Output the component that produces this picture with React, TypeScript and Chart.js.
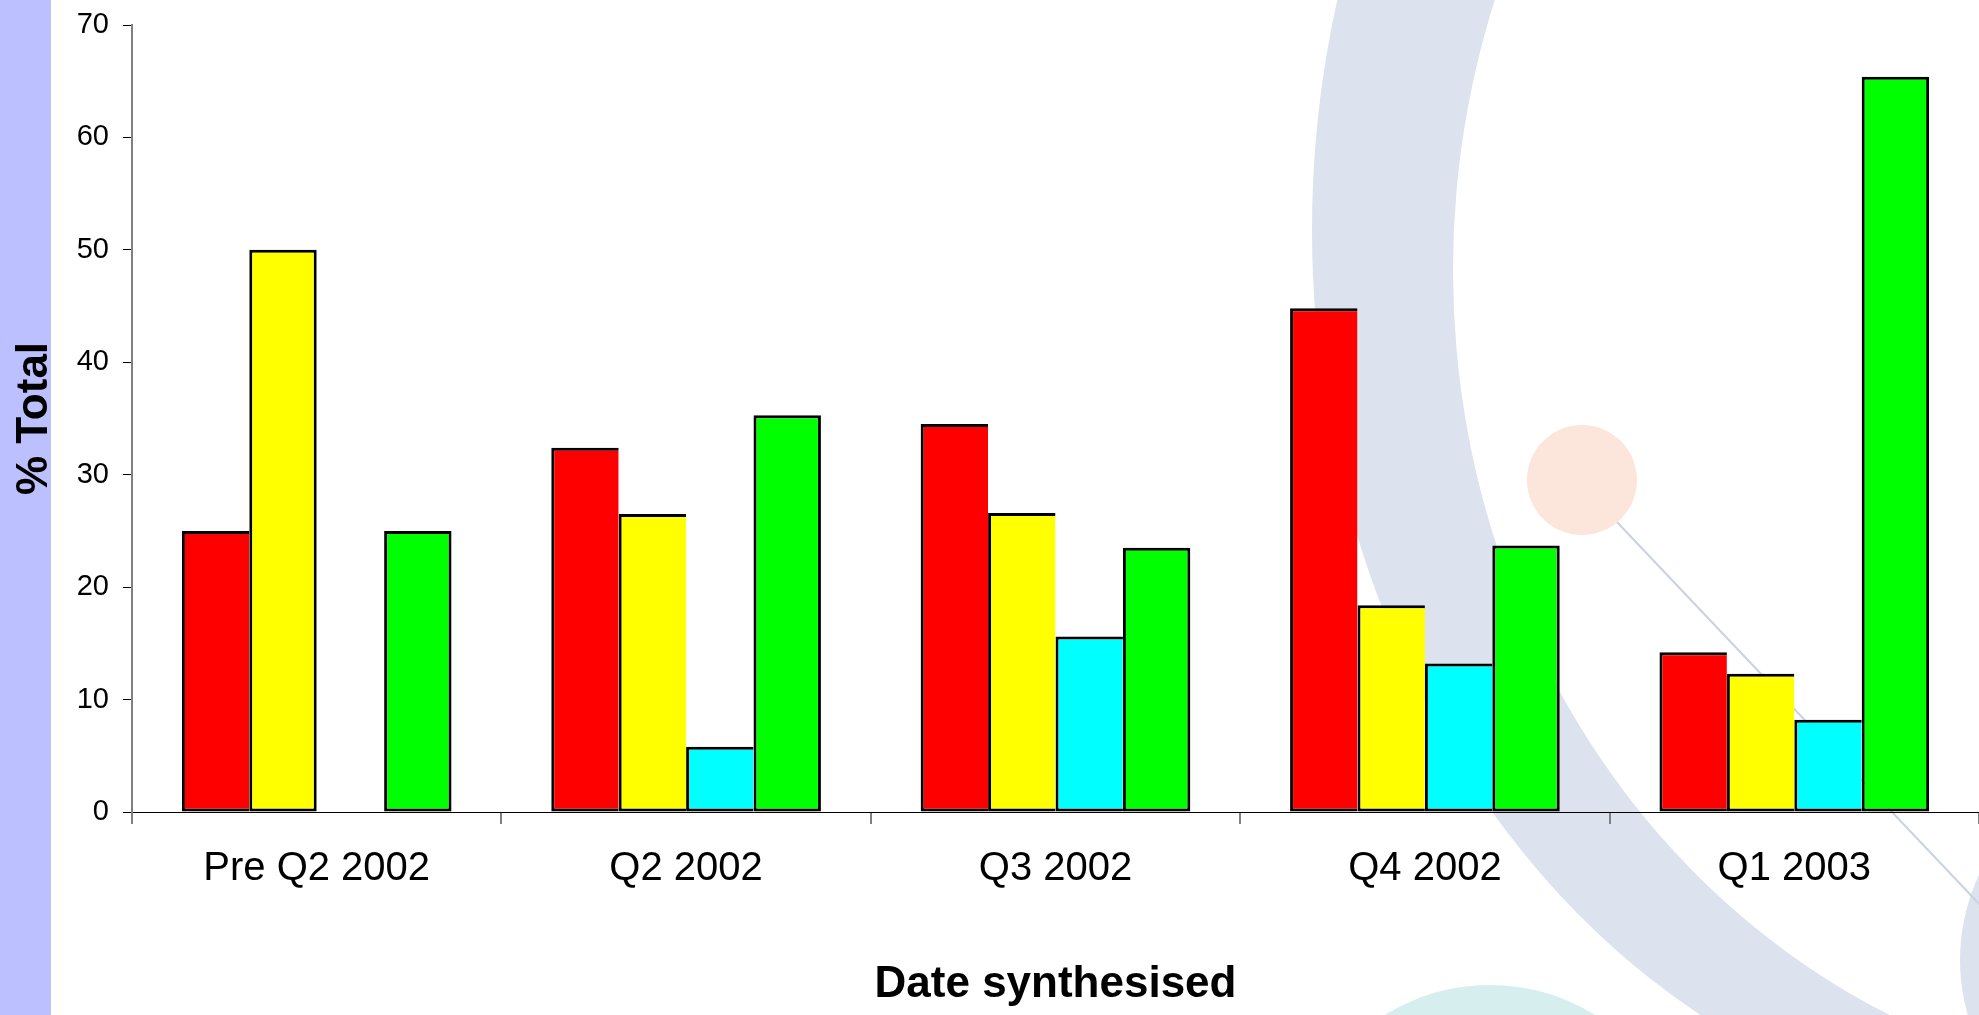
import React, { useEffect, useRef } from "react";
import { Chart, registerables } from "chart.js";

Chart.register(...registerables);

// ---- Data ----
const categories = ["Pre Q2 2002", "Q2 2002", "Q3 2002", "Q4 2002", "Q1 2003"];
const redValues: (number | null)[] = [25.0, 32.4, 34.5, 44.8, 14.2];
const yellowValues: (number | null)[] = [50.0, 26.5, 26.6, 18.4, 12.3];
const cyanValues: (number | null)[] = [null, 5.8, 15.6, 13.2, 8.2];
const greenValues: (number | null)[] = [25.0, 35.3, 23.5, 23.7, 65.4];
const seriesColors = ["#FF0000", "#FFFF00", "#00FFFF", "#00FF00"];
const seriesNames = ["Red", "Yellow", "Cyan", "Green"];
const yMin = 0;
const yMax = 70;
const yStep = 10;
const xTitle = "Date synthesised";
const yTitle = "% Total";

const FONT = "'Liberation Sans', Arial, Helvetica, sans-serif";
const BW = 3;
const allSeries = [redValues, yellowValues, cyanValues, greenValues];

const slideBackground = {
  id: "slideBackground",
  beforeDraw(chart: any) {
    const { ctx, width, height } = chart;
    ctx.save();
    ctx.fillStyle = "#ffffff";
    ctx.fillRect(0, 0, width, height);

    // big pale blue swoosh
    ctx.beginPath();
    ctx.ellipse(2072, 230, 760, 900, 0, 0, Math.PI * 2);
    ctx.ellipse(2203, 270, 750, 820, 0, 0, Math.PI * 2);
    ctx.fillStyle = "#dce3ee";
    ctx.fill("evenodd");

    // blob at right edge
    ctx.beginPath();
    ctx.arc(2160, 960, 200, 0, Math.PI * 2);
    ctx.fillStyle = "#dce3ee";
    ctx.fill();

    // teal circle at bottom
    ctx.beginPath();
    ctx.arc(1490, 1185, 200, 0, Math.PI * 2);
    ctx.fillStyle = "#d6efee";
    ctx.fill();

    // thin line
    ctx.beginPath();
    ctx.moveTo(1615, 520);
    ctx.lineTo(1985, 910);
    ctx.strokeStyle = "#c9d1e2";
    ctx.lineWidth = 2;
    ctx.stroke();

    // orange circle
    ctx.beginPath();
    ctx.arc(1582, 480, 55, 0, Math.PI * 2);
    ctx.fillStyle = "#fce6dc";
    ctx.fill();

    // lavender strip on left
    ctx.fillStyle = "#bcc0ff";
    ctx.fillRect(0, 0, 51, height);
    ctx.restore();
  },
};

export default function App() {
  const canvasRef = useRef<HTMLCanvasElement | null>(null);

  useEffect(() => {
    const canvas = canvasRef.current;
    if (!canvas) return;
    const chart = new Chart(canvas, {
      type: "bar",
      data: {
        labels: categories,
        datasets: allSeries.map((vals, di) => ({
          label: seriesNames[di],
          data: vals,
          backgroundColor: seriesColors[di],
          borderColor: "#000000",
          borderSkipped: false,
          borderWidth: (ctx: any) => {
            const next = allSeries[ctx.datasetIndex + 1];
            const right = !next || next[ctx.dataIndex] == null ? BW : 0;
            return { top: BW, bottom: BW, left: BW, right };
          },
          categoryPercentage: 0.73,
          barPercentage: 1.0,
        })),
      },
      options: {
        responsive: false,
        animation: false,
        devicePixelRatio: 1,
        layout: { padding: { top: 25, left: 0, right: 0, bottom: 0 } },
        plugins: {
          legend: { display: false },
          tooltip: { enabled: false },
        },
        scales: {
          x: {
            offset: true,
            grid: {
              display: true,
              offset: true,
              drawOnChartArea: false,
              drawTicks: true,
              tickLength: 12,
              color: "#808080",
              tickColor: "#808080",
              lineWidth: 2,
            },
            border: { display: true, color: "#000000", width: 1 },
            ticks: {
              color: "#000000",
              font: { family: FONT, size: 40 },
              padding: 21,
              maxRotation: 0,
              autoSkip: false,
            },
            title: {
              display: true,
              text: xTitle,
              color: "#000000",
              font: { family: FONT, size: 44, weight: "bold" },
              padding: { top: 0, bottom: 4 },
            },
            afterFit: (scale: any) => {
              scale.height = 203;
            },
          },
          y: {
            min: yMin,
            max: yMax,
            ticks: {
              stepSize: yStep,
              color: "#000000",
              font: { family: FONT, size: 29 },
              padding: 14,
            },
            grid: {
              drawOnChartArea: false,
              drawTicks: true,
              tickLength: 9,
              color: "#000000",
              tickColor: "#000000",
            },
            border: { display: true, color: "#808080", width: 2 },
            title: {
              display: true,
              text: yTitle,
              color: "#000000",
              font: { family: FONT, size: 44, weight: "bold" },
              padding: { top: 8, bottom: 0 },
            },
            afterFit: (scale: any) => {
              scale.width = 132;
              scale.paddingTop = 0;
            },
          },
        },
      },
      plugins: [slideBackground],
    } as any);
    return () => chart.destroy();
  }, []);

  return (
    <div style={{ position: "fixed", left: 0, top: 0, width: 1979, height: 1015 }}>
      <canvas ref={canvasRef} width={1979} height={1015} style={{ display: "block" }} />
    </div>
  );
}
